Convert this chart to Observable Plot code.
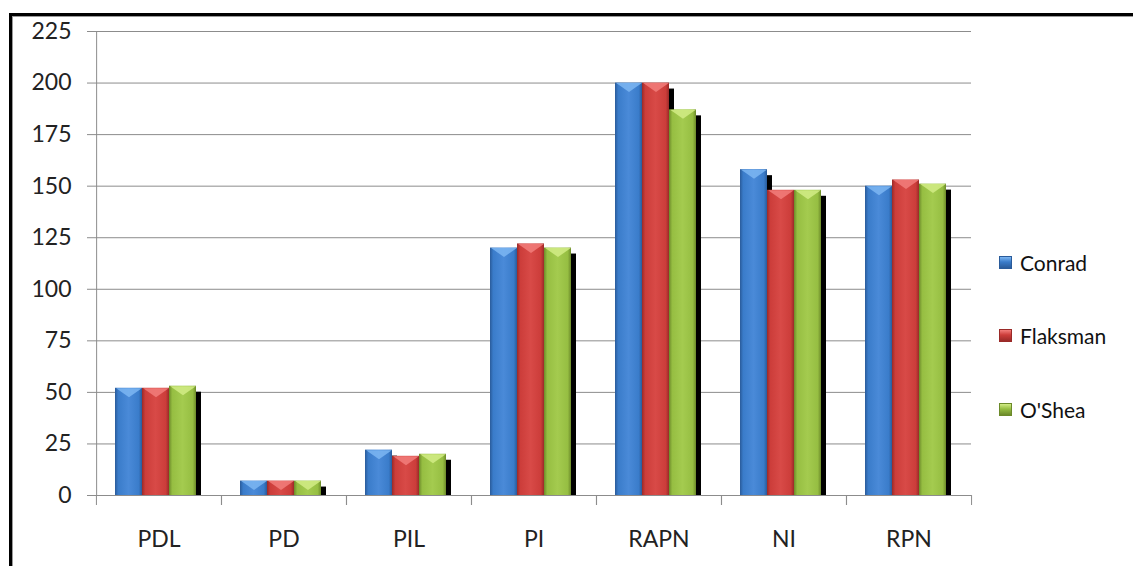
<!DOCTYPE html>
<html><head><meta charset="utf-8">
<script src="https://cdn.jsdelivr.net/npm/d3@7"></script>
<script src="https://cdn.jsdelivr.net/npm/@observablehq/plot@0.6"></script>
<style>
html,body{margin:0;padding:0;background:#fff;}
#wrap{position:relative;width:1133px;height:566px;overflow:hidden;font-family:Lato,"Open Sans",sans-serif;background:#fff;}
#b1{position:absolute;left:9px;top:13px;right:-20px;bottom:-20px;border-top:3px solid #000;border-left:3px solid #000;}
#b2{position:absolute;left:12px;top:16px;right:-20px;bottom:-20px;border-top:1px solid #9a9a9a;border-left:1px solid #9a9a9a;}
#chart{position:absolute;left:0;top:0;}
#legend{position:absolute;left:999px;top:0;}
.item{position:absolute;left:0;display:flex;align-items:center;white-space:nowrap;font-size:21px;color:#111;height:22px;}
.sw{width:13px;height:13px;margin-right:8px;box-sizing:border-box;}
</style>
</head><body>
<div id="wrap"><div id="b1"></div><div id="b2"></div><div id="chart"></div><div id="legend"></div></div>
<script>
const categories = ["PDL", "PD", "PIL", "PI", "RAPN", "NI", "RPN"];
const seriesNames = ["Conrad", "Flaksman", "O'Shea"];
const conrad   = [52, 7, 22, 120, 200, 158, 150];
const flaksman = [52, 7, 19, 122, 200, 148, 153];
const oshea    = [53, 7, 20, 120, 187, 148, 151];
const yTicks = [0, 25, 50, 75, 100, 125, 150, 175, 200, 225];

const seriesValues = {"Conrad": conrad, "Flaksman": flaksman, "O'Shea": oshea};
const palette = {
  "Conrad":   {dark: "#2a5b9a", mid: "#3a7cca", light: "#4a8ad8", top: "#7db6f2", id: "gC"},
  "Flaksman": {dark: "#9a2a28", mid: "#cc3d3a", light: "#d84a47", top: "#f27e7b", id: "gF"},
  "O'Shea":   {dark: "#6c8a2a", mid: "#96be42", light: "#a4cb4f", top: "#d2ec86", id: "gO"}
};

const rows = categories.flatMap((c, i) =>
  seriesNames.map(s => ({category: c, series: s, value: seriesValues[s][i]})));

const W = 1133, H = 566, mL = 95, mR = 162, mT = 31, mB = 71;
const step = (W - mL - mR) / categories.length;
const po = 0.76, align = 0.44;
const bw = step / (seriesNames.length + 2 * po);
const start = (step - bw * seriesNames.length) * align;
const firstCenter = start + bw / 2;

const chevron = {draw(ctx) { const w = bw - 2, h = 9; ctx.moveTo(-w / 2, 0); ctx.lineTo(w / 2, 0); ctx.lineTo(0, h); ctx.closePath(); }};

const grey = "#8c8c8c";
const marks = [
  Plot.gridY(yTicks, {stroke: grey, strokeOpacity: 1}),
  Plot.axisY(yTicks, {tickSize: 9, tickPadding: 16, stroke: grey, fill: "#222", fontSize: 23, label: null}),
  Plot.ruleX(rows.filter(d => d.category === categories[0] && d.series === seriesNames[0]),
    {fx: "category", x: "series", dx: -firstCenter, y1: 0, y2: 225, stroke: grey}),
  Plot.axisFx({tickSize: 10, text: null, dx: -step / 2, stroke: grey, anchor: "bottom", label: null}),
  Plot.axisFx([categories[categories.length - 1]], {tickSize: 10, text: null, dx: step / 2, stroke: grey, anchor: "bottom", label: null}),
  Plot.axisFx({tickSize: 0, tickPadding: 35, fontSize: 23, fill: "#222", anchor: "bottom", label: null}),
  Plot.barY(rows, {fx: "category", x: "series", y: "value", fill: "#000", dx: 5, insetTop: 6})
];
for (const s of seriesNames) {
  const data = rows.filter(d => d.series === s);
  marks.push(Plot.barY(data, {fx: "category", x: "series", y: "value", fill: `url(#${palette[s].id})`}));
  marks.push(Plot.dot(data, {fx: "category", x: "series", y: "value", symbol: chevron, r: 5, fill: palette[s].top, fillOpacity: 0.85, stroke: null}));
}
marks.push(Plot.ruleY([0], {stroke: grey}));

const plot = Plot.plot({
  width: W, height: H, marginLeft: mL, marginRight: mR, marginTop: mT, marginBottom: mB,
  style: {fontFamily: "Lato, 'Open Sans', sans-serif", fontSize: "23px", background: "transparent", overflow: "visible"},
  fx: {domain: categories, padding: 0, label: null, axis: null},
  x: {domain: seriesNames, paddingInner: 0, paddingOuter: po, align: align, axis: null, label: null},
  y: {domain: [0, 225], axis: null, label: null},
  marks
});

const defs = d3.select(plot).insert("defs", ":first-child");
for (const s of seriesNames) {
  const p = palette[s];
  const g = defs.append("linearGradient").attr("id", p.id).attr("x1", "0").attr("x2", "1").attr("y1", "0").attr("y2", "0");
  [[0, p.dark], [0.12, p.mid], [0.5, p.light], [0.88, p.mid], [1, p.dark]].forEach(([o, c]) =>
    g.append("stop").attr("offset", o).attr("stop-color", c));
}
document.getElementById("chart").appendChild(plot);

const legendTops = [262, 335, 409];
const legend = document.getElementById("legend");
seriesNames.forEach((s, i) => {
  const item = document.createElement("div");
  item.className = "item";
  item.style.top = (legendTops[i] - 11) + "px";
  const sw = document.createElement("span");
  sw.className = "sw";
  const p = palette[s];
  sw.style.background = `linear-gradient(to bottom, ${p.top}, ${p.mid} 45%, ${p.dark})`;
  sw.style.border = `1px solid ${p.dark}`;
  item.appendChild(sw);
  const t = document.createElement("span");
  t.textContent = s;
  item.appendChild(t);
  legend.appendChild(item);
});
</script>
</body></html>
